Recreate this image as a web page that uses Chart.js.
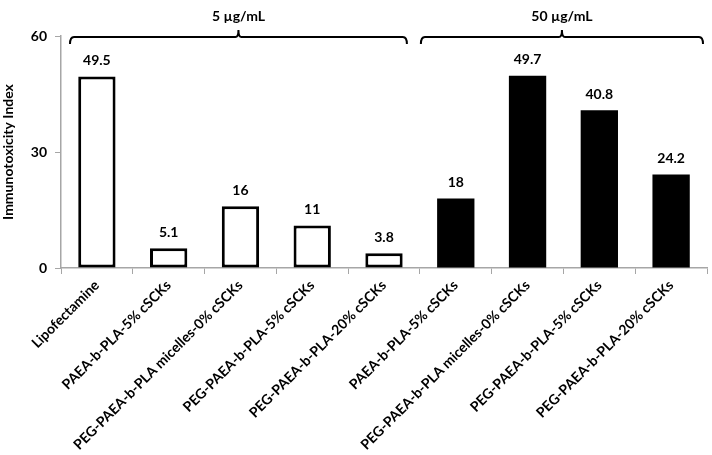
<!DOCTYPE html>
<html lang="en">
<head>
    <meta charset="UTF-8">
    <title>Immunotoxicity Index</title>
    <script src="https://cdn.jsdelivr.net/npm/chart.js"></script>
    <style>
        body {
            margin: 0;
            background: #fff;
        }
        .chart-container {
            width: 712px;
            height: 455px;
            position: relative;
        }
    </style>
</head>
<body>
    <div class="chart-container">
        <canvas id="immunoChart"></canvas>
    </div>

    <script>
        // data
        const categories = [
            'Lipofectamine',
            'PAEA-b-PLA-5% cSCKs',
            'PEG-PAEA-b-PLA micelles-0% cSCKs',
            'PEG-PAEA-b-PLA-5% cSCKs',
            'PEG-PAEA-b-PLA-20% cSCKs',
            'PAEA-b-PLA-5% cSCKs',
            'PEG-PAEA-b-PLA micelles-0% cSCKs',
            'PEG-PAEA-b-PLA-5% cSCKs',
            'PEG-PAEA-b-PLA-20% cSCKs'
        ];
        const values = [49.5, 5.1, 16, 11, 3.8, 18, 49.7, 40.8, 24.2];
        const dose = ['5', '5', '5', '5', '5', '50', '50', '50', '50'];
        const groupLabels = ['5 µg/mL', '50 µg/mL'];
        const groupRanges = [[0, 4], [5, 8]];
        const yTicks = [0, 30, 60];

        const FONT = 'Lato, "Open Sans", sans-serif';

        // value above each bar
        const valueLabels = {
            id: 'valueLabels',
            afterDatasetsDraw(chart) {
                const ctx = chart.ctx;
                const meta = chart.getDatasetMeta(0);
                ctx.save();
                ctx.font = 'bold 14px ' + FONT;
                ctx.fillStyle = '#000';
                ctx.textAlign = 'center';
                ctx.textBaseline = 'bottom';
                meta.data.forEach((bar, i) => {
                    ctx.fillText(String(values[i]), bar.x, bar.y - 9);
                });
                ctx.restore();
            }
        };

        // curly brackets over the two dose groups
        const groupBrackets = {
            id: 'groupBrackets',
            afterDraw(chart) {
                const ctx = chart.ctx;
                const x = chart.scales.x;
                const half = (x.getPixelForValue(1) - x.getPixelForValue(0)) / 2;
                const insets = [[9, 13], [1, 4]];
                const yLine = 37;
                ctx.save();
                ctx.strokeStyle = '#000';
                ctx.lineWidth = 2;
                ctx.font = 'bold 14px ' + FONT;
                ctx.fillStyle = '#000';
                ctx.textAlign = 'center';
                ctx.textBaseline = 'middle';
                groupRanges.forEach((r, g) => {
                    const left = x.getPixelForValue(r[0]) - half + insets[g][0];
                    const right = x.getPixelForValue(r[1]) + half - insets[g][1];
                    const mid = (left + right) / 2;
                    ctx.beginPath();
                    ctx.moveTo(left, yLine + 7);
                    ctx.quadraticCurveTo(left, yLine, left + 4, yLine);
                    ctx.lineTo(mid - 3, yLine);
                    ctx.quadraticCurveTo(mid, yLine, mid, yLine - 7);
                    ctx.quadraticCurveTo(mid, yLine, mid + 3, yLine);
                    ctx.lineTo(right - 4, yLine);
                    ctx.quadraticCurveTo(right, yLine, right, yLine + 7);
                    ctx.stroke();
                    ctx.fillText(groupLabels[g], mid, 16);
                });
                ctx.restore();
            }
        };

        const ctx = document.getElementById('immunoChart').getContext('2d');
        new Chart(ctx, {
            type: 'bar',
            data: {
                labels: categories,
                datasets: [{
                    label: 'Immunotoxicity Index',
                    data: values,
                    backgroundColor: dose.map(d => d === '5' ? '#ffffff' : '#000000'),
                    borderColor: '#000000',
                    // solid bars need no outline (avoids a grey seam)
                    borderWidth: dose.map(d => d === '5' ? 3 : 0),
                    borderSkipped: false,
                    barPercentage: 0.52,
                    categoryPercentage: 1
                }]
            },
            options: {
                responsive: true,
                maintainAspectRatio: false,
                animation: false,
                layout: { padding: { top: 36, right: 5, left: 0, bottom: 0 } },
                plugins: {
                    legend: { display: false },
                    tooltip: { enabled: false }
                },
                scales: {
                    x: {
                        offset: true,
                        grid: {
                            offset: true,
                            drawOnChartArea: false,
                            tickLength: 6,
                            color: '#a6a6a6'
                        },
                        border: { color: '#a6a6a6', width: 1.5 },
                        ticks: {
                            minRotation: 45,
                            maxRotation: 45,
                            autoSkip: false,
                            color: '#000',
                            font: { family: FONT, size: 14, weight: 'bold' }
                        },
                        afterFit(scale) { scale.height = 187; }
                    },
                    y: {
                        min: 0,
                        max: 60,
                        afterBuildTicks(scale) {
                            scale.ticks = yTicks.map(v => ({ value: v }));
                        },
                        grid: {
                            drawOnChartArea: false,
                            tickLength: 6,
                            color: '#a6a6a6'
                        },
                        border: { color: '#a6a6a6', width: 1.5 },
                        ticks: {
                            color: '#000',
                            padding: 8,
                            font: { family: FONT, size: 14, weight: 'bold' }
                        },
                        title: {
                            display: true,
                            text: 'Immunotoxicity Index',
                            color: '#000',
                            padding: { top: 0, bottom: 2 },
                            font: { family: FONT, size: 14, weight: 'bold' }
                        },
                        afterFit(scale) { scale.width = 61; }
                    }
                }
            },
            plugins: [valueLabels, groupBrackets]
        });
    </script>
</body>
</html>
